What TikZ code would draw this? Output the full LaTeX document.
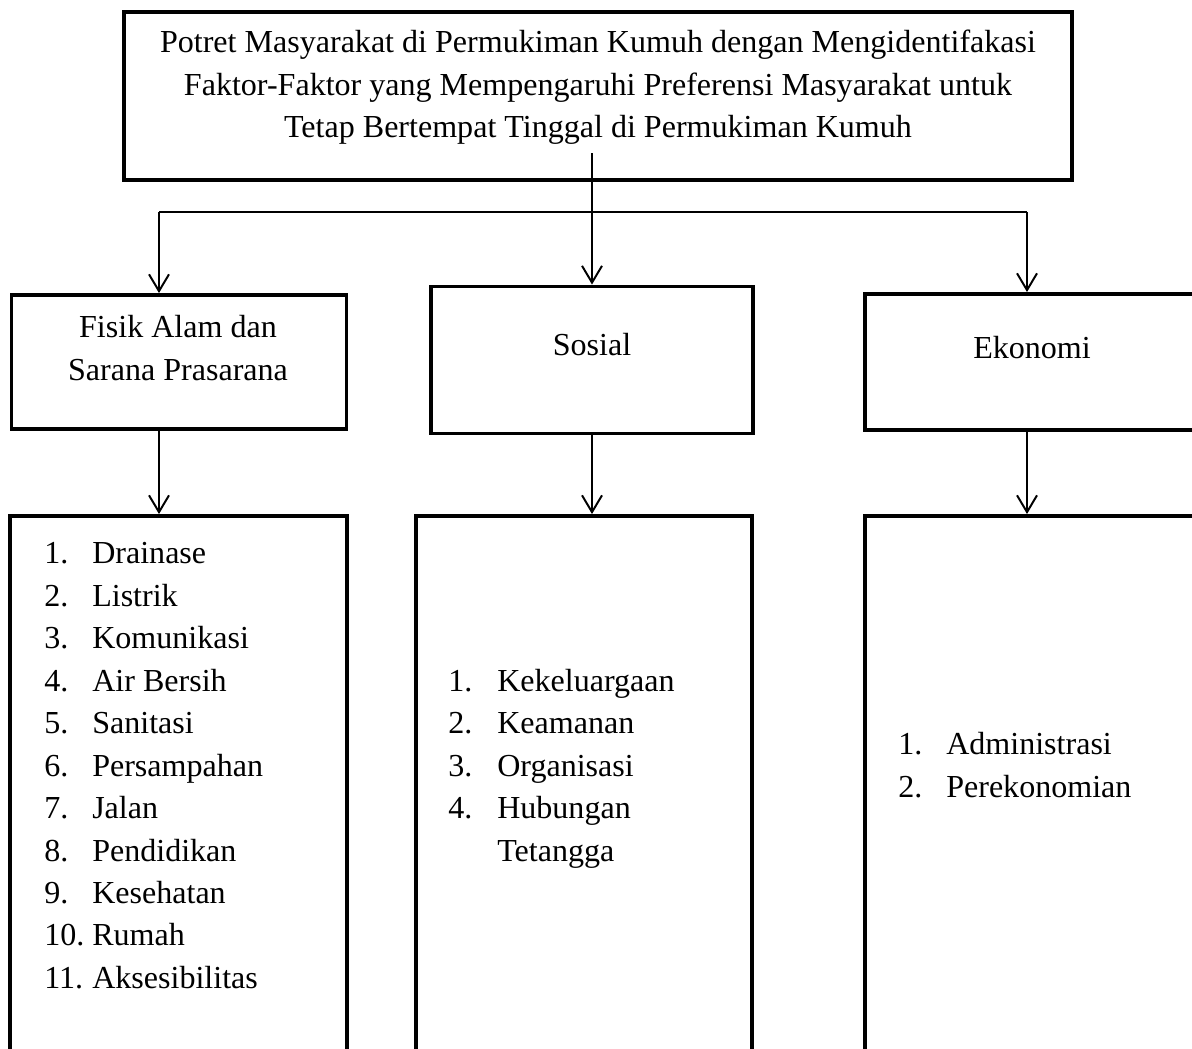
\documentclass[tikz,border=0pt]{standalone}
\usepackage{fontspec}
\setmainfont{Liberation Serif}
\usetikzlibrary{arrows.meta}

\begin{document}
\begin{tikzpicture}[
  topbox/.style  = {draw, line width=2.8pt, minimum width=23.7cm,
                    minimum height=4.2cm},
  catbox/.style  = {draw, line width=2.8pt, minimum width=8.375cm,
                    minimum height=3.35cm},
  listbox/.style = {draw, line width=2.8pt, minimum width=8.4cm,
                    minimum height=13.65cm},
  txt/.style     = {align=center, inner sep=0pt,
                    font=\fontsize{22.8}{30.2}\selectfont},
  listtxt/.style = {anchor=west, inner sep=0pt,
                    font=\fontsize{22.8}{30.2}\selectfont},
  arr/.style     = {-{Straight Barb[length=0.42cm,width=0.5cm]},
                    line width=1.4pt},
  conn/.style    = {line width=1.4pt},
]
\useasboundingbox (0,0) rectangle (29.8,-26.2);

% Title
\node[topbox] (judul) at (14.95,-2.4) {};
\node[txt] (judultxt) at (14.95,-2.19)
  {Potret Masyarakat di Permukiman Kumuh dengan Mengidentifakasi\\
   Faktor-Faktor yang Mempengaruhi Preferensi Masyarakat untuk\\
   Tetap Bertempat Tinggal di Permukiman Kumuh};

% Factor groups
\node[catbox] (fisik) at (4.475,-9.05) {};
\node[txt] (fisiktxt) at (4.45,-8.7) {Fisik Alam dan\\Sarana Prasarana};
\node[catbox, minimum width=8.05cm, minimum height=3.675cm]
  (sosial) at (14.8,-9.0) {};
\node[txt] (sosialtxt) at (14.8,-8.625) {Sosial};
\node[catbox, minimum width=8.35cm, minimum height=3.4cm]
  (ekonomi) at (25.8,-9.05) {};
\node[txt] (ekonomitxt) at (25.8,-8.7) {Ekonomi};

% Item lists
\node[listbox, minimum width=8.425cm] (lfisik) at (4.4625,-19.725) {};
\node[listbox] (lsosial) at (14.6,-19.725) {};
\node[listbox, minimum width=8.35cm] (lekonomi) at (25.8,-19.725) {};

\node[listtxt] (lfisiktxt) at (1.1,-19.19)
  {\begin{tabular}{@{}p{1.2cm}@{}l@{}}
   1. & Drainase\\ 2. & Listrik\\ 3. & Komunikasi\\ 4. & Air Bersih\\
   5. & Sanitasi\\ 6. & Persampahan\\ 7. & Jalan\\ 8. & Pendidikan\\
   9. & Kesehatan\\ 10. & Rumah\\ 11. & Aksesibilitas
   \end{tabular}};
\node[listtxt] (lsosialtxt) at (11.2,-19.19)
  {\begin{tabular}{@{}p{1.225cm}@{}l@{}}
   1. & Kekeluargaan\\ 2. & Keamanan\\ 3. & Organisasi\\
   4. & Hubungan\\ & Tetangga
   \end{tabular}};
\node[listtxt] (lekonomitxt) at (22.45,-19.19)
  {\begin{tabular}{@{}p{1.2cm}@{}l@{}}
   1. & Administrasi\\ 2. & Perekonomian
   \end{tabular}};

% Branching connectors
\coordinate (pangkal) at (14.8,-3.825);
\coordinate (cabkiri) at (3.975,-5.3);
\coordinate (cabkanan) at (25.675,-5.3);

\draw[arr] (pangkal) -- (sosial.north);
\draw[conn] (cabkiri) -- (cabkanan);
\draw[arr] (cabkiri) -- (cabkiri |- fisik.north);
\draw[arr] (cabkanan) -- (cabkanan |- ekonomi.north);

% Group -> list
\draw[arr] (cabkiri |- fisik.south) -- (cabkiri |- lfisik.north);
\draw[arr] (sosial.south) -- (sosial.south |- lsosial.north);
\draw[arr] (cabkanan |- ekonomi.south) -- (cabkanan |- lekonomi.north);

\end{tikzpicture}
\end{document}
